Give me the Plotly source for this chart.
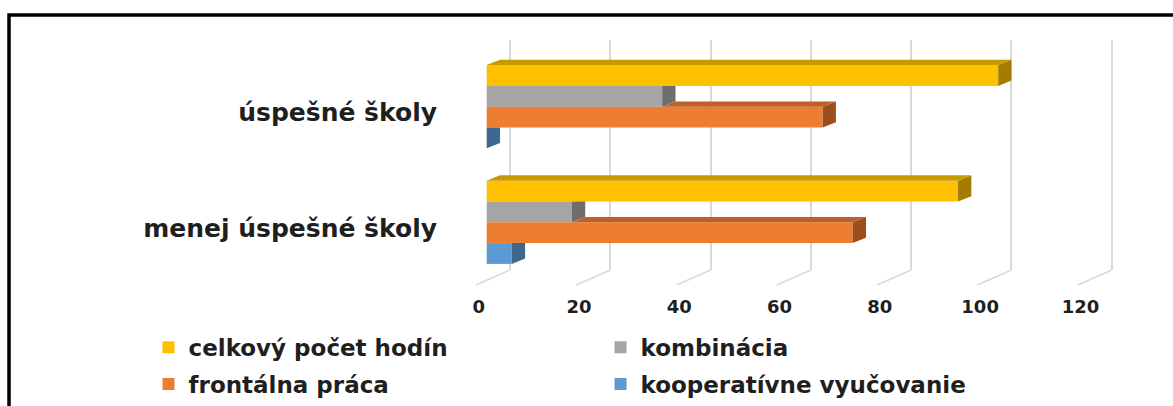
import plotly.graph_objects as go

# ---------------- data ----------------
categories = ["úspešné školy", "menej úspešné školy"]
series_names = ["celkový počet hodín", "kombinácia", "frontálna práca", "kooperatívne vyučovanie"]
celkovy_pocet = [102, 94]
kombinacia = [35, 17]
frontalna = [67, 73]
kooperativne = [0, 5]
x_ticks = [0, 20, 40, 60, 80, 100, 120]

series_values = [celkovy_pocet, kombinacia, frontalna, kooperativne]

# ---------------- style ----------------
front_colors = ["#FFC000", "#A5A5A5", "#ED7D31", "#5B9BD5"]
top_colors = ["#C79A00", "#858585", "#BE5F27", "#4A7FB0"]
side_colors = ["#A47D00", "#6E6E6E", "#9D4E1D", "#3D6890"]
legend_ids = ["legend", "legend", "legend2", "legend2"]

FONT = "DejaVu Sans"
TXT = "#1f1f1f"

X_RANGE = [-3.33, 125.9]
BACK_SHIFT = 4.646          # back-wall grid offset (value units)
FLOOR_DX = 6.78             # floor diagonal length (value units)
Y_RANGE = [1.4126, -0.577]  # reversed category axis
BW = 0.18                   # bar thickness (category units)
DX = 2.65                   # 3D depth, value units
DY = 0.046                  # 3D depth, category units

fig = go.Figure()

n = len(series_names)
positions = list(range(len(categories)))

# front faces
for s, (name, vals) in enumerate(zip(series_names, series_values)):
    fig.add_trace(go.Bar(
        x=vals, y=positions, orientation="h", name=name,
        width=BW, offset=(s - n / 2) * BW,
        marker=dict(color=front_colors[s], line=dict(width=0)),
        legend=legend_ids[s], hoverinfo="x+name",
    ))

# 3D side and top faces derived from the values
for i in positions:
    for s in range(n):
        v = series_values[s][i]
        ytop = i + (s - n / 2) * BW
        ybot = ytop + BW
        va = series_values[s - 1][i] if s > 0 else None
        hidden_above = va is not None and va > v
        side_top = ytop if hidden_above else ytop - DY
        fig.add_trace(go.Scatter(
            x=[v, v + DX, v + DX, v, v], y=[ybot, ybot - DY, side_top, ytop, ybot],
            mode="lines", fill="toself", fillcolor=side_colors[s],
            line=dict(width=0), showlegend=False, hoverinfo="skip",
        ))
        if not hidden_above:
            a = 0 if va is None else va
            fig.add_trace(go.Scatter(
                x=[a, v, v + DX, a + DX, a], y=[ytop, ytop, ytop - DY, ytop - DY, ytop],
                mode="lines", fill="toself", fillcolor=top_colors[s],
                line=dict(width=0), showlegend=False, hoverinfo="skip",
            ))

# floor diagonals
shapes = []
for t in x_ticks:
    shapes.append(dict(type="line", xref="x2", yref="paper",
                       x0=t, y0=0, x1=t - FLOOR_DX, y1=-15 / 230,
                       line=dict(color="#d9d9d9", width=1.5), layer="below"))
# outer frame
shapes.append(dict(type="rect", xref="paper", yref="paper",
                   x0=-0.7114, y0=-0.9, x1=1.3, y1=1.1087,
                   line=dict(color="black", width=3.5), fillcolor="rgba(0,0,0,0)"))

legend_common = dict(
    orientation="h", xanchor="left", yanchor="middle", x=-0.4961,
    entrywidth=407, entrywidthmode="pixels",
    font=dict(family=FONT, size=23, color=TXT, weight="bold"),
    bgcolor="rgba(0,0,0,0)", traceorder="normal",
)

fig.update_layout(
    width=1173, height=406,
    margin=dict(l=470, r=55, t=40, b=136, autoexpand=False),
    paper_bgcolor="white", plot_bgcolor="white",
    barmode="overlay",
    showlegend=True,
    legend=dict(y=-0.336, **legend_common),
    legend2=dict(y=-0.4957, **legend_common),
    xaxis=dict(range=X_RANGE, tickvals=x_ticks, showgrid=False, zeroline=False,
               showline=False, ticks="",
               tickfont=dict(family=FONT, size=18, color=TXT, weight="bold"),
               ticklabelshift=-8, ticklabelstandoff=24),
    xaxis2=dict(range=[X_RANGE[0] - BACK_SHIFT, X_RANGE[1] - BACK_SHIFT],
                overlaying="x", anchor="y", side="bottom",
                tickvals=x_ticks, showticklabels=False, ticks="",
                showgrid=True, gridcolor="#d9d9d9", gridwidth=2, zeroline=False),
    yaxis=dict(range=Y_RANGE, tickvals=positions, ticktext=categories,
               showgrid=False, zeroline=False, showline=False, ticks="",
               tickfont=dict(family=FONT, size=25, color=TXT, weight="bold"),
               ticklabelstandoff=32, ticklabelshift=-6),
    shapes=shapes,
)

fig.write_html("out.html")
